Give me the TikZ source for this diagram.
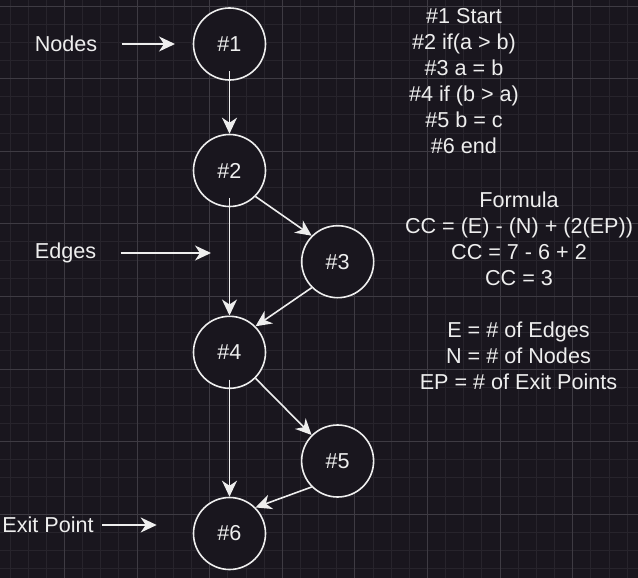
\documentclass[tikz,border=0pt]{standalone}
\usepackage{fontspec}
\setmainfont{Liberation Sans}
\usetikzlibrary{arrows.meta,positioning}
\definecolor{bgdark}{RGB}{25,22,30}
\definecolor{gridminor}{RGB}{39,36,44}
\definecolor{gridmajor}{RGB}{62,59,67}
\definecolor{inkwhite}{RGB}{238,238,238}

\begin{document}
\begin{tikzpicture}[
  x=0.5pt, y=-0.5pt,
  state/.style={draw=inkwhite, circle, line width=0.8pt, fill=bgdark, minimum size=36pt, inner sep=0pt, text=inkwhite, font=\fontsize{10.8}{13}\selectfont},
  lbl/.style={text=inkwhite, inner sep=0pt, font=\fontsize{10.8}{13}\selectfont},
  notes/.style={text=inkwhite, align=center, inner sep=0pt, font=\fontsize{10.8}{13}\selectfont},
  arr/.style={-{Stealth[length=8pt,width=7.5pt,inset=2.5pt]}, draw=inkwhite, line width=0.8pt}
]
% background and grid
\fill[bgdark] (0,0) rectangle (638,578);
\useasboundingbox (0,0) rectangle (638,578);
\foreach \i in {0,...,34} \draw[gridminor, line width=0.5pt] (10.05+\i*18.15,0) -- (10.05+\i*18.15,578);
\foreach \i in {0,...,31} \draw[gridminor, line width=0.5pt] (0,6+\i*18.15) -- (638,6+\i*18.15);
\foreach \i in {0,...,8} \draw[gridmajor, line width=0.5pt] (-8.1+\i*72.6,0) -- (-8.1+\i*72.6,578);
\foreach \i in {0,...,7} \draw[gridmajor, line width=0.5pt] (0,6+\i*72.6) -- (638,6+\i*72.6);

% flow graph
\node[state] (n1) at (229.5,44) {\#1};
\node[state] (n2) at (229.5,170.5) {\#2};
\node[state] (n3) at (337.7,261.7) {\#3};
\node[state] (n4) at (229.5,352.3) {\#4};
\node[state] (n5) at (337.6,461) {\#5};
\node[state] (n6) at (229.5,533.5) {\#6};

\draw[arr, shorten <=-4.75pt] (n1) -- (n2);
\draw[arr, shorten <=-4.75pt] (n2) -- (n4);
\draw[arr, shorten <=-4.75pt] (n4) -- (n6);
\draw[arr] (n2.-45) -- (n3.135);
\draw[arr] (n3.-135) -- (n4.45);
\draw[arr] (n4.-45) -- (n5.135);
\draw[arr] (n5.-135) -- (n6.45);

% pointers on the left
\node[lbl] (lblnodes) at (66,44) {Nodes};
\node[lbl] (lbledges) at (65.5,253) {Edges};
\node[lbl] (lblexit) at (48,525) {Exit Point};
\coordinate (tipnodes) at (175,44);
\coordinate (tipedges) at (211,253);
\coordinate (tipexit) at (156.7,525);
\draw[arr, shorten <=12pt] (lblnodes.east) -- (tipnodes);
\draw[arr, shorten <=12pt] (lbledges.east) -- (tipedges);
\draw[arr, shorten <=4.2pt] (lblexit.east) -- (tipexit);

% notes on the right
\node[notes] (steps) at (464,81) {\#1 Start\\\#2 if(a > b)\\\#3 a = b\\\#4 if (b > a)\\\#5 b = c\\\#6 end};
\node[notes] (formula) at (519,239) {Formula\\CC = (E) - (N) + (2(EP))\\CC = 7 - 6 + 2\\CC = 3};
\node[notes] (legend) at (518.5,356) {E = \# of Edges\\N = \# of Nodes\\EP = \# of Exit Points};
\end{tikzpicture}
\end{document}
